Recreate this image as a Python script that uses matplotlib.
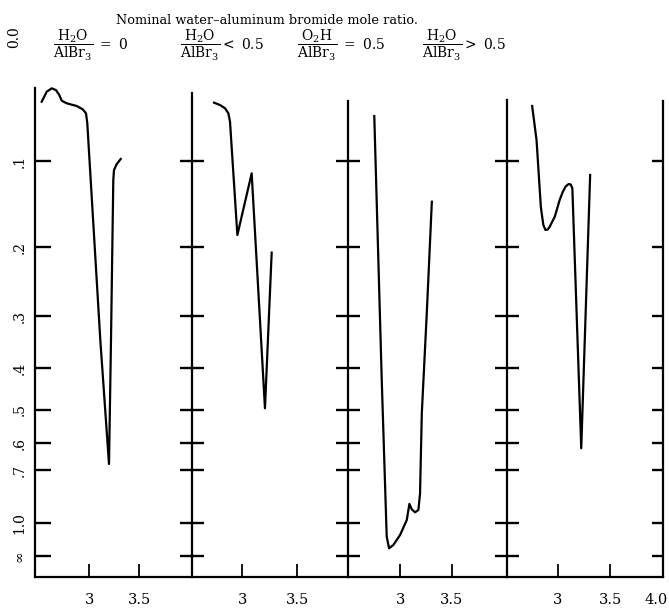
import numpy as np
import matplotlib
matplotlib.use("Agg")
import matplotlib.pyplot as plt
import matplotlib.transforms as mtransforms

plt.rcParams['font.family'] = ['DejaVu Serif', 'DejaVu Sans']
plt.rcParams['mathtext.fontset'] = 'dejavuserif'

# ---------------- data (absorbance vs wavelength, microns) ----------------
title = "Nominal water\u2013aluminum bromide mole ratio."
panel_labels = [
    r"$\dfrac{\mathrm{H_2O}}{\mathrm{AlBr_3}}$ $=$ 0",
    r"$\dfrac{\mathrm{H_2O}}{\mathrm{AlBr_3}}$$<$ 0.5",
    r"$\dfrac{\mathrm{O_2H}}{\mathrm{AlBr_3}}$ $=$ 0.5",
    r"$\dfrac{\mathrm{H_2O}}{\mathrm{AlBr_3}}$$>$ 0.5",
]

abs_ticks = [0.1, 0.2, 0.3, 0.4, 0.5, 0.6, 0.7, 1.0, np.inf]
abs_tick_labels = ['.1', '.2', '.3', '.4', '.5', '.6', '.7', '1.0', '\u221e']
top_label = '0.0'

x_ticks_panels = [[3, 3.5], [3, 3.5], [3, 3.5], [3, 3.5, 4.0]]
x_ticklabels_panels = [['3', '3.5'], ['3', '3.5'], ['3', '3.5'], ['3', '3.5', '4.0']]

wl_1 = [2.524, 2.574, 2.624, 2.667, 2.700, 2.724, 2.774, 2.874, 2.934, 2.967, 2.980,
        3.110, 3.197, 3.217, 3.240, 3.247, 3.274, 3.314]
ab_1 = [0.0491, 0.0411, 0.0384, 0.0398, 0.0437, 0.0483, 0.0504, 0.0526, 0.0553, 0.0586, 0.0670,
        0.3427, 0.6753, 0.3427, 0.1202, 0.1095, 0.1032, 0.0982]

wl_2 = [2.743, 2.797, 2.843, 2.873, 2.888, 2.955, 3.085, 3.206, 3.267]
ab_2 = [0.0499, 0.0518, 0.0545, 0.0586, 0.0656, 0.1846, 0.1130, 0.4955, 0.2073]

wl_3 = [2.751, 2.823, 2.871, 2.894, 2.935, 3.000, 3.065, 3.090, 3.113, 3.145, 3.177,
        3.193, 3.210, 3.258, 3.307]
ab_3 = [0.0609, 0.4263, 1.228, 1.611, 1.465, 1.192, 0.976, 0.867, 0.9006, 0.9205, 0.9052,
        0.8074, 0.5089, 0.2948, 0.1445]

wl_4 = [2.753, 2.795, 2.836, 2.848, 2.860, 2.880, 2.902, 2.921, 2.969, 3.016, 3.045, 3.073,
        3.102, 3.121, 3.137, 3.222, 3.307]
ab_4 = [0.0526, 0.0813, 0.1503, 0.1612, 0.1721, 0.1783, 0.1777, 0.1742, 0.1621, 0.1425, 0.1335,
        0.1273, 0.1246, 0.1251, 0.1293, 0.6165, 0.1148]

wavelengths = [wl_1, wl_2, wl_3, wl_4]
absorbances = [ab_1, ab_2, ab_3, ab_4]

# ---------------- layout ----------------
W, H, DPI = 669, 609, 100
fig = plt.figure(figsize=(W / DPI, H / DPI), dpi=DPI)

# hand-drawn ordinate: transmittance knots -> pixel rows of the printed scale
T_k = np.array([-1.0, -0.06, 0.0, 0.1, 10**-0.7, 10**-0.6, 10**-0.5, 10**-0.4,
                10**-0.3, 10**-0.2, 10**-0.1, 1.0, 11.0])
P_k = np.array([891.5, 576.7, 556.5, 523, 470, 443.5, 410, 368, 316.5, 247, 161, 37.5, -5962.5])


def fwd(t):
    return np.interp(t, T_k, -P_k)


def inv(v):
    return np.interp(v, -P_k, T_k)


def t_at(px):
    return float(inv(-px))


ax_bottom_px, ax_top_px = 576.7, 88.0
panels_px = [(35, 192.3), (192.3, 348.3), (348.3, 506.7), (506.7, 662.7)]
xlims = [(2.457, 4.03), (2.545, 3.964), (2.50, 4.03), (2.51, 4.0)]
spine_tops = [88, 93, 101, 100]

ylo, yhi = t_at(ax_bottom_px), t_at(ax_top_px)
ytick_T = [10.0 ** (-a) for a in abs_ticks]

lw_ax = 1.6
axes = []
for i in range(4):
    l, r = panels_px[i]
    ax = fig.add_axes([l / W, 1 - ax_bottom_px / H, (r - l) / W, (ax_bottom_px - ax_top_px) / H])
    axes.append(ax)
    ax.set_yscale('function', functions=(fwd, inv))
    ax.set_ylim(ylo, yhi)
    ax.set_xlim(*xlims[i])
    ax.patch.set_alpha(0)
    for s in ['top', 'right']:
        ax.spines[s].set_visible(False)
    ax.spines['left'].set_linewidth(lw_ax)
    ax.spines['bottom'].set_linewidth(lw_ax)
    ax.spines['left'].set_bounds(ylo, t_at(spine_tops[i]))

    ax.plot(wavelengths[i], [10.0 ** (-a) for a in absorbances[i]], color='black', lw=1.6,
            solid_joinstyle='round', clip_on=False)

    ax.set_yticks(ytick_T)
    ax.yaxis.set_minor_locator(matplotlib.ticker.NullLocator())
    if i == 0:
        ax.set_yticklabels(abs_tick_labels, rotation=90, va='center', fontsize=10)
        ax.tick_params(axis='y', direction='in', length=11.5, width=1.7, pad=6)
    else:
        ax.set_yticklabels([])
        ax.tick_params(axis='y', direction='inout', length=17, width=1.7, labelleft=False)

    ax.set_xticks(x_ticks_panels[i])
    ax.set_xticklabels(x_ticklabels_panels[i], fontsize=10.5)
    ax.xaxis.set_minor_locator(matplotlib.ticker.NullLocator())
    ax.tick_params(axis='x', direction='in', length=9.5, width=1.3, pad=12)

    if i == 3:
        # last label sits a little left of its tick, as printed
        lab = ax.get_xticklabels()[-1]
        lab.set_transform(lab.get_transform() +
                          mtransforms.ScaledTranslation(-7 / DPI, 0, fig.dpi_scale_trans))
        axr = ax.twinx()
        axr.set_yscale('function', functions=(fwd, inv))
        axr.set_ylim(ylo, yhi)
        for s in ['top', 'left', 'bottom']:
            axr.spines[s].set_visible(False)
        axr.spines['right'].set_linewidth(lw_ax)
        axr.spines['right'].set_bounds(ylo, t_at(101))
        axr.set_yticks(ytick_T)
        axr.yaxis.set_minor_locator(matplotlib.ticker.NullLocator())
        axr.set_yticklabels([])
        axr.tick_params(axis='y', direction='in', length=8, width=1.7, labelright=False)

# "0.0" printed above the axis, level with the ratio labels
axes[0].text(-(35 - 14) / (panels_px[0][1] - panels_px[0][0]), 10.0 ** 0.0, top_label,
             transform=mtransforms.blended_transform_factory(axes[0].transAxes, axes[0].transData),
             rotation=90, va='center', ha='center', fontsize=10, clip_on=False)

fig.text(266.5 / W, 1 - 20 / H, title, ha='center', va='center', fontsize=9.3)

label_x = [53, 180, 297, 422]
for lx, lab in zip(label_x, panel_labels):
    fig.text(lx / W, 1 - 45 / H, lab, ha='left', va='center', fontsize=10)

fig.savefig('out.png', dpi=DPI)
